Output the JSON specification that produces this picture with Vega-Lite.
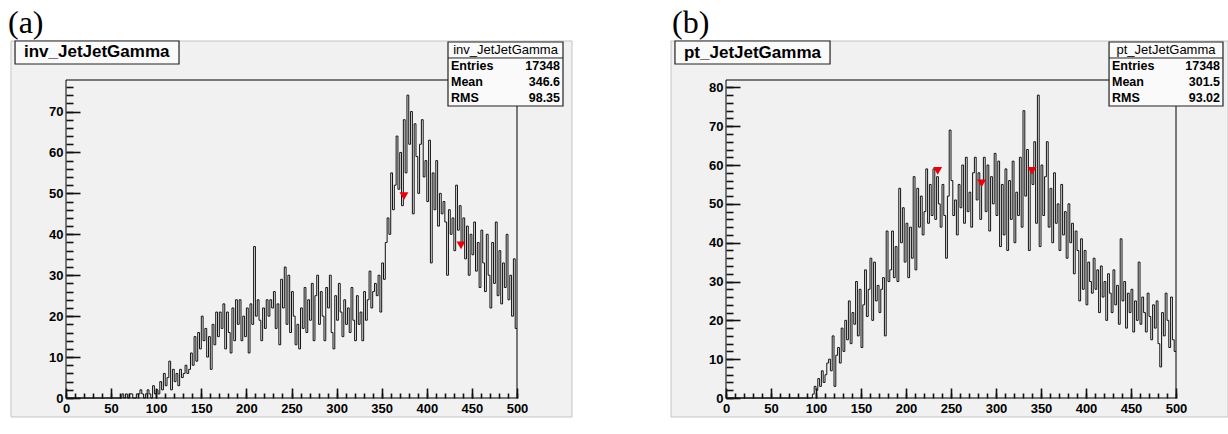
{
"$schema": "https://vega.github.io/schema/vega-lite/v6.json",
"background": "white",
"padding": {"left": 8, "top": 7, "right": 0, "bottom": 0},
"spacing": 97,
"config": {
  "view": {"stroke": null},
  "axis": {"labelFont": "Liberation Sans", "labelFontWeight": "bold", "labelFontSize": 13, "labelColor": "black", "domainColor": "black", "domainWidth": 1, "grid": false, "labelFlush": false, "labelOverlap": false, "labelBound": false, "zindex": 1},
  "text": {"font": "Liberation Sans", "color": "black"}
},
"datasets": {
  "histA": [
    {"x":0,"n":0},{"x":60,"n":0},{"x":62,"n":1},{"x":64,"n":0},{"x":66,"n":1},{"x":68,"n":0},{"x":70,"n":1},{"x":72,"n":1},{"x":74,"n":0},{"x":76,"n":0},{"x":78,"n":1},
    {"x":80,"n":1},{"x":82,"n":2},{"x":84,"n":1},{"x":86,"n":0},{"x":88,"n":1},{"x":90,"n":2},{"x":92,"n":1},{"x":94,"n":0},{"x":96,"n":3},{"x":98,"n":1},
    {"x":100,"n":2},{"x":102,"n":1},{"x":104,"n":4},{"x":106,"n":2},{"x":108,"n":6},{"x":110,"n":3},{"x":112,"n":5},{"x":114,"n":9},{"x":116,"n":2},{"x":118,"n":7},
    {"x":120,"n":4},{"x":122,"n":6},{"x":124,"n":3},{"x":126,"n":7},{"x":128,"n":5},{"x":130,"n":6},{"x":132,"n":8},{"x":134,"n":6},{"x":136,"n":7},{"x":138,"n":11},
    {"x":140,"n":8},{"x":142,"n":15},{"x":144,"n":9},{"x":146,"n":16},{"x":148,"n":12},{"x":150,"n":20},{"x":152,"n":14},{"x":154,"n":17},{"x":156,"n":10},{"x":158,"n":15},
    {"x":160,"n":7},{"x":162,"n":18},{"x":164,"n":13},{"x":166,"n":21},{"x":168,"n":15},{"x":170,"n":21},{"x":172,"n":17},{"x":174,"n":23},{"x":176,"n":12},{"x":178,"n":21},
    {"x":180,"n":16},{"x":182,"n":11},{"x":184,"n":22},{"x":186,"n":14},{"x":188,"n":24},{"x":190,"n":18},{"x":192,"n":24},{"x":194,"n":14},{"x":196,"n":20},{"x":198,"n":15},
    {"x":200,"n":22},{"x":202,"n":11},{"x":204,"n":23},{"x":206,"n":18},{"x":208,"n":37},{"x":210,"n":20},{"x":212,"n":24},{"x":214,"n":19},{"x":216,"n":14},{"x":218,"n":22},
    {"x":220,"n":17},{"x":222,"n":24},{"x":224,"n":20},{"x":226,"n":24},{"x":228,"n":22},{"x":230,"n":26},{"x":232,"n":17},{"x":234,"n":23},{"x":236,"n":13},{"x":238,"n":29},
    {"x":240,"n":22},{"x":242,"n":32},{"x":244,"n":18},{"x":246,"n":30},{"x":248,"n":16},{"x":250,"n":26},{"x":252,"n":20},{"x":254,"n":13},{"x":256,"n":18},{"x":258,"n":12},
    {"x":260,"n":22},{"x":262,"n":17},{"x":264,"n":27},{"x":266,"n":16},{"x":268,"n":24},{"x":270,"n":19},{"x":272,"n":28},{"x":274,"n":14},{"x":276,"n":25},{"x":278,"n":30},
    {"x":280,"n":18},{"x":282,"n":26},{"x":284,"n":20},{"x":286,"n":14},{"x":288,"n":27},{"x":290,"n":22},{"x":292,"n":30},{"x":294,"n":16},{"x":296,"n":12},{"x":298,"n":25},
    {"x":300,"n":19},{"x":302,"n":28},{"x":304,"n":21},{"x":306,"n":15},{"x":308,"n":24},{"x":310,"n":18},{"x":312,"n":22},{"x":314,"n":16},{"x":316,"n":27},{"x":318,"n":19},
    {"x":320,"n":14},{"x":322,"n":25},{"x":324,"n":18},{"x":326,"n":21},{"x":328,"n":14},{"x":330,"n":26},{"x":332,"n":19},{"x":334,"n":24},{"x":336,"n":31},{"x":338,"n":22},
    {"x":340,"n":26},{"x":342,"n":28},{"x":344,"n":25},{"x":346,"n":30},{"x":348,"n":21},{"x":350,"n":33},{"x":352,"n":29},{"x":354,"n":38},{"x":356,"n":44},{"x":358,"n":40},
    {"x":360,"n":55},{"x":362,"n":46},{"x":364,"n":52},{"x":366,"n":64},{"x":368,"n":51},{"x":370,"n":60},{"x":372,"n":47},{"x":374,"n":68},{"x":376,"n":55},{"x":378,"n":74},
    {"x":380,"n":62},{"x":382,"n":70},{"x":384,"n":45},{"x":386,"n":67},{"x":388,"n":59},{"x":390,"n":50},{"x":392,"n":62},{"x":394,"n":68},{"x":396,"n":54},{"x":398,"n":58},
    {"x":400,"n":48},{"x":402,"n":63},{"x":404,"n":33},{"x":406,"n":55},{"x":408,"n":46},{"x":410,"n":58},{"x":412,"n":42},{"x":414,"n":50},{"x":416,"n":45},{"x":418,"n":48},
    {"x":420,"n":43},{"x":422,"n":30},{"x":424,"n":46},{"x":426,"n":40},{"x":428,"n":44},{"x":430,"n":36},{"x":432,"n":52},{"x":434,"n":41},{"x":436,"n":47},{"x":438,"n":38},
    {"x":440,"n":44},{"x":442,"n":34},{"x":444,"n":42},{"x":446,"n":30},{"x":448,"n":40},{"x":450,"n":35},{"x":452,"n":43},{"x":454,"n":31},{"x":456,"n":38},{"x":458,"n":27},
    {"x":460,"n":41},{"x":462,"n":33},{"x":464,"n":26},{"x":466,"n":40},{"x":468,"n":30},{"x":470,"n":22},{"x":472,"n":38},{"x":474,"n":28},{"x":476,"n":43},{"x":478,"n":25},
    {"x":480,"n":36},{"x":482,"n":23},{"x":484,"n":33},{"x":486,"n":27},{"x":488,"n":40},{"x":490,"n":24},{"x":492,"n":30},{"x":494,"n":20},{"x":496,"n":34},{"x":498,"n":17},
    {"x":500,"n":17}
  ],
  "histB": [
    {"x":0,"n":0},{"x":94,"n":0},{"x":96,"n":1},{"x":98,"n":3},
    {"x":100,"n":2},{"x":102,"n":5},{"x":104,"n":3},{"x":106,"n":7},{"x":108,"n":4},{"x":110,"n":6},{"x":112,"n":9},{"x":114,"n":10},{"x":116,"n":7},{"x":118,"n":16},
    {"x":120,"n":3},{"x":122,"n":11},{"x":124,"n":13},{"x":126,"n":9},{"x":128,"n":18},{"x":130,"n":12},{"x":132,"n":20},{"x":134,"n":15},{"x":136,"n":25},{"x":138,"n":14},
    {"x":140,"n":22},{"x":142,"n":19},{"x":144,"n":30},{"x":146,"n":16},{"x":148,"n":28},{"x":150,"n":13},{"x":152,"n":24},{"x":154,"n":33},{"x":156,"n":21},{"x":158,"n":28},
    {"x":160,"n":36},{"x":162,"n":20},{"x":164,"n":35},{"x":166,"n":25},{"x":168,"n":29},{"x":170,"n":22},{"x":172,"n":28},{"x":174,"n":31},{"x":176,"n":16},{"x":178,"n":43},
    {"x":180,"n":30},{"x":182,"n":33},{"x":184,"n":43},{"x":186,"n":31},{"x":188,"n":39},{"x":190,"n":30},{"x":192,"n":54},{"x":194,"n":40},{"x":196,"n":49},{"x":198,"n":35},
    {"x":200,"n":45},{"x":202,"n":31},{"x":204,"n":44},{"x":206,"n":36},{"x":208,"n":57},{"x":210,"n":33},{"x":212,"n":54},{"x":214,"n":44},{"x":216,"n":52},{"x":218,"n":42},
    {"x":220,"n":48},{"x":222,"n":59},{"x":224,"n":45},{"x":226,"n":55},{"x":228,"n":47},{"x":230,"n":59},{"x":232,"n":46},{"x":234,"n":57},{"x":236,"n":50},{"x":238,"n":44},
    {"x":240,"n":55},{"x":242,"n":47},{"x":244,"n":36},{"x":246,"n":52},{"x":248,"n":69},{"x":250,"n":56},{"x":252,"n":47},{"x":254,"n":51},{"x":256,"n":42},{"x":258,"n":55},
    {"x":260,"n":49},{"x":262,"n":60},{"x":264,"n":45},{"x":266,"n":62},{"x":268,"n":48},{"x":270,"n":53},{"x":272,"n":44},{"x":274,"n":58},{"x":276,"n":62},{"x":278,"n":51},
    {"x":280,"n":58},{"x":282,"n":46},{"x":284,"n":56},{"x":286,"n":62},{"x":288,"n":48},{"x":290,"n":60},{"x":292,"n":43},{"x":294,"n":57},{"x":296,"n":50},{"x":298,"n":63},
    {"x":300,"n":47},{"x":302,"n":61},{"x":304,"n":39},{"x":306,"n":55},{"x":308,"n":42},{"x":310,"n":59},{"x":312,"n":38},{"x":314,"n":56},{"x":316,"n":46},{"x":318,"n":61},
    {"x":320,"n":40},{"x":322,"n":53},{"x":324,"n":47},{"x":326,"n":62},{"x":328,"n":44},{"x":330,"n":74},{"x":332,"n":52},{"x":334,"n":64},{"x":336,"n":38},{"x":338,"n":59},
    {"x":340,"n":55},{"x":342,"n":66},{"x":344,"n":45},{"x":346,"n":78},{"x":348,"n":39},{"x":350,"n":60},{"x":352,"n":47},{"x":354,"n":57},{"x":356,"n":66},{"x":358,"n":44},
    {"x":360,"n":54},{"x":362,"n":40},{"x":364,"n":58},{"x":366,"n":45},{"x":368,"n":50},{"x":370,"n":38},{"x":372,"n":55},{"x":374,"n":42},{"x":376,"n":48},{"x":378,"n":36},
    {"x":380,"n":50},{"x":382,"n":40},{"x":384,"n":45},{"x":386,"n":32},{"x":388,"n":43},{"x":390,"n":38},{"x":392,"n":25},{"x":394,"n":41},{"x":396,"n":28},{"x":398,"n":38},
    {"x":400,"n":24},{"x":402,"n":35},{"x":404,"n":30},{"x":406,"n":27},{"x":408,"n":36},{"x":410,"n":28},{"x":412,"n":33},{"x":414,"n":22},{"x":416,"n":34},{"x":418,"n":26},
    {"x":420,"n":30},{"x":422,"n":20},{"x":424,"n":32},{"x":426,"n":27},{"x":428,"n":22},{"x":430,"n":33},{"x":432,"n":24},{"x":434,"n":29},{"x":436,"n":19},{"x":438,"n":41},
    {"x":440,"n":25},{"x":442,"n":30},{"x":444,"n":18},{"x":446,"n":27},{"x":448,"n":22},{"x":450,"n":28},{"x":452,"n":17},{"x":454,"n":25},{"x":456,"n":20},{"x":458,"n":35},
    {"x":460,"n":19},{"x":462,"n":26},{"x":464,"n":22},{"x":466,"n":17},{"x":468,"n":27},{"x":470,"n":21},{"x":472,"n":15},{"x":474,"n":24},{"x":476,"n":18},{"x":478,"n":25},
    {"x":480,"n":14},{"x":482,"n":8},{"x":484,"n":22},{"x":486,"n":16},{"x":488,"n":27},{"x":490,"n":20},{"x":492,"n":13},{"x":494,"n":26},{"x":496,"n":15},{"x":498,"n":12},
    {"x":500,"n":12}
  ],
  "triA": [{"x":374.7,"y":49.3},{"x":437.9,"y":37.3}],
  "triB": [{"x":235.2,"y":58.5},{"x":284,"y":55.3},{"x":340,"y":58.5}],
  "padA": [{"x0":-61.0,"x1":561.0,"y0":-4.64,"y1":87.23}],
  "padB": [{"x0":-61.1,"x1":557.8,"y0":-4.89,"y1":91.94}],
  "frameA": [{"x0":0,"x1":500,"y0":0,"y1":77.7}],
  "frameB": [{"x0":0,"x1":500,"y0":0,"y1":81.9}],
  "titleA": [{"x0":-56.5,"x1":125.3,"y0":81.61,"y1":87.23,"tx":-46.6,"ty":84.42,"t":"inv_JetJetGamma"}],
  "titleB": [{"x0":-56.7,"x1":115.6,"y0":86.02,"y1":91.94,"tx":-46.7,"ty":88.98,"t":"pt_JetJetGamma"}],
  "lblA": [{"x":-64.3,"y":95.29,"t":"(a)"}],
  "lblB": [{"x":-60.0,"y":100.44,"t":"(b)"}],
  "statA": [{"x0":423.5,"x1":551.0,"y0":71.35,"y1":86.99,"ys":83.08,"tx":487.3,"ty":85.03,"t":"inv_JetJetGamma"}],
  "statB": [{"x0":425.6,"x1":552.2,"y0":75.20,"y1":91.69,"ys":87.57,"tx":488.9,"ty":89.63,"t":"pt_JetJetGamma"}],
  "rowsA": [{"k":"Entries","v":"17348","lx":426.8,"vx":547.7,"y":81.12},{"k":"Mean","v":"346.6","lx":426.8,"vx":547.7,"y":77.21},{"k":"RMS","v":"98.35","lx":426.8,"vx":547.7,"y":73.30}],
  "rowsB": [{"k":"Entries","v":"17348","lx":428.9,"vx":548.9,"y":85.51},{"k":"Mean","v":"301.5","lx":428.9,"vx":548.9,"y":81.40},{"k":"RMS","v":"93.02","lx":428.9,"vx":548.9,"y":77.28}]
},
"hconcat": [
  {
    "width": 451, "height": 318,
    "resolve": {"axis": {"x": "independent", "y": "independent"}},
    "layer": [
      {"data": {"name": "padA"}, "mark": {"type": "rect", "fill": "#f1f1f1", "stroke": "#c4c4c4", "strokeWidth": 1},
       "encoding": {"x": {"field": "x0", "type": "quantitative", "scale": {"domain": [0, 500], "nice": false, "zero": false}, "axis": null}, "x2": {"field": "x1"},
                    "y": {"field": "y0", "type": "quantitative", "scale": {"domain": [0, 77.7], "nice": false, "zero": false}, "axis": null}, "y2": {"field": "y1"}}},
      {"data": {"name": "histA"}, "mark": {"type": "line", "interpolate": "step-after", "color": "#111111", "strokeWidth": 1},
       "encoding": {"x": {"field": "x", "type": "quantitative", "scale": {"domain": [0, 500], "nice": false, "zero": false},
                          "axis": {"title": null, "orient": "bottom", "zindex": 2, "tickCount": 10, "ticks": true, "tickColor": "#111111", "tickOpacity": 1, "tickWidth": 1.6, "tickSize": 10, "offset": -10, "domain": false, "labelPadding": 4}},
                    "y": {"field": "n", "type": "quantitative", "scale": {"domain": [0, 77.7], "nice": false, "zero": false},
                          "axis": {"title": null, "orient": "left", "zindex": 2, "tickCount": 8, "ticks": true, "tickColor": "#111111", "tickOpacity": 1, "tickWidth": 1.6, "tickSize": 14, "offset": -14, "domain": false, "labelPadding": 3}}}},
      {"data": {"name": "frameA"}, "mark": {"type": "rect", "fillOpacity": 0, "stroke": "black", "strokeWidth": 1},
       "encoding": {"x": {"field": "x0", "type": "quantitative", "scale": {"domain": [0, 500], "nice": false, "zero": false},
                          "axis": {"title": null, "orient": "bottom", "zindex": 2, "tickCount": 50, "ticks": true, "tickColor": "#111111", "tickOpacity": 1, "tickWidth": 1.6, "tickSize": 5, "offset": -5, "labels": false, "domain": false}}, "x2": {"field": "x1"},
                    "y": {"field": "y0", "type": "quantitative", "scale": {"domain": [0, 77.7], "nice": false, "zero": false},
                          "axis": {"title": null, "orient": "left", "zindex": 2, "tickCount": 40, "ticks": true, "tickColor": "#111111", "tickOpacity": 1, "tickWidth": 1.6, "tickSize": 7, "offset": -7, "labels": false, "domain": false}}, "y2": {"field": "y1"}}},
      {"data": {"name": "triA"}, "mark": {"type": "point", "shape": "triangle-down", "filled": true, "color": "#e8000b", "size": 80, "opacity": 1},
       "encoding": {"x": {"field": "x", "type": "quantitative", "axis": null}, "y": {"field": "y", "type": "quantitative", "axis": null}}},
      {"data": {"name": "titleA"}, "mark": {"type": "rect", "fill": "#fafafa", "stroke": "#222222", "strokeWidth": 1.2},
       "encoding": {"x": {"field": "x0", "type": "quantitative", "axis": null}, "x2": {"field": "x1"}, "y": {"field": "y0", "type": "quantitative", "axis": null}, "y2": {"field": "y1"}}},
      {"data": {"name": "titleA"}, "mark": {"type": "text", "align": "left", "baseline": "middle", "fontSize": 17, "fontWeight": "bold"},
       "encoding": {"x": {"field": "tx", "type": "quantitative", "axis": null}, "y": {"field": "ty", "type": "quantitative", "axis": null}, "text": {"field": "t"}}},
      {"data": {"name": "lblA"}, "mark": {"type": "text", "align": "left", "baseline": "top", "fontSize": 32, "font": "Liberation Serif"},
       "encoding": {"x": {"field": "x", "type": "quantitative", "axis": null}, "y": {"field": "y", "type": "quantitative", "axis": null}, "text": {"field": "t"}}},
      {"data": {"name": "statA"}, "mark": {"type": "rect", "fill": "#fafafa", "stroke": "#222222", "strokeWidth": 1.2},
       "encoding": {"x": {"field": "x0", "type": "quantitative", "axis": null}, "x2": {"field": "x1"}, "y": {"field": "y0", "type": "quantitative", "axis": null}, "y2": {"field": "y1"}}},
      {"data": {"name": "statA"}, "mark": {"type": "rule", "stroke": "#222222", "strokeWidth": 1},
       "encoding": {"x": {"field": "x0", "type": "quantitative", "axis": null}, "x2": {"field": "x1"}, "y": {"field": "ys", "type": "quantitative", "axis": null}}},
      {"data": {"name": "statA"}, "mark": {"type": "text", "align": "center", "baseline": "middle", "fontSize": 13},
       "encoding": {"x": {"field": "tx", "type": "quantitative", "axis": null}, "y": {"field": "ty", "type": "quantitative", "axis": null}, "text": {"field": "t"}}},
      {"data": {"name": "rowsA"}, "mark": {"type": "text", "align": "left", "baseline": "middle", "fontSize": 12.5, "fontWeight": "bold"},
       "encoding": {"x": {"field": "lx", "type": "quantitative", "axis": null}, "y": {"field": "y", "type": "quantitative", "axis": null}, "text": {"field": "k"}}},
      {"data": {"name": "rowsA"}, "mark": {"type": "text", "align": "right", "baseline": "middle", "fontSize": 12.5, "fontWeight": "bold"},
       "encoding": {"x": {"field": "vx", "type": "quantitative", "axis": null}, "y": {"field": "y", "type": "quantitative", "axis": null}, "text": {"field": "v"}}}
    ]
  },
  {
    "width": 450, "height": 318,
    "resolve": {"axis": {"x": "independent", "y": "independent"}},
    "layer": [
      {"data": {"name": "padB"}, "mark": {"type": "rect", "fill": "#f1f1f1", "stroke": "#c4c4c4", "strokeWidth": 1},
       "encoding": {"x": {"field": "x0", "type": "quantitative", "scale": {"domain": [0, 500], "nice": false, "zero": false}, "axis": null}, "x2": {"field": "x1"},
                    "y": {"field": "y0", "type": "quantitative", "scale": {"domain": [0, 81.9], "nice": false, "zero": false}, "axis": null}, "y2": {"field": "y1"}}},
      {"data": {"name": "histB"}, "mark": {"type": "line", "interpolate": "step-after", "color": "#111111", "strokeWidth": 1},
       "encoding": {"x": {"field": "x", "type": "quantitative", "scale": {"domain": [0, 500], "nice": false, "zero": false},
                          "axis": {"title": null, "orient": "bottom", "zindex": 2, "tickCount": 10, "ticks": true, "tickColor": "#111111", "tickOpacity": 1, "tickWidth": 1.6, "tickSize": 10, "offset": -10, "domain": false, "labelPadding": 4}},
                    "y": {"field": "n", "type": "quantitative", "scale": {"domain": [0, 81.9], "nice": false, "zero": false},
                          "axis": {"title": null, "orient": "left", "zindex": 2, "tickCount": 8, "ticks": true, "tickColor": "#111111", "tickOpacity": 1, "tickWidth": 1.6, "tickSize": 14, "offset": -14, "domain": false, "labelPadding": 3}}}},
      {"data": {"name": "frameB"}, "mark": {"type": "rect", "fillOpacity": 0, "stroke": "black", "strokeWidth": 1},
       "encoding": {"x": {"field": "x0", "type": "quantitative", "scale": {"domain": [0, 500], "nice": false, "zero": false},
                          "axis": {"title": null, "orient": "bottom", "zindex": 2, "tickCount": 50, "ticks": true, "tickColor": "#111111", "tickOpacity": 1, "tickWidth": 1.6, "tickSize": 5, "offset": -5, "labels": false, "domain": false}}, "x2": {"field": "x1"},
                    "y": {"field": "y0", "type": "quantitative", "scale": {"domain": [0, 81.9], "nice": false, "zero": false},
                          "axis": {"title": null, "orient": "left", "zindex": 2, "tickCount": 40, "ticks": true, "tickColor": "#111111", "tickOpacity": 1, "tickWidth": 1.6, "tickSize": 7, "offset": -7, "labels": false, "domain": false}}, "y2": {"field": "y1"}}},
      {"data": {"name": "triB"}, "mark": {"type": "point", "shape": "triangle-down", "filled": true, "color": "#e8000b", "size": 80, "opacity": 1},
       "encoding": {"x": {"field": "x", "type": "quantitative", "axis": null}, "y": {"field": "y", "type": "quantitative", "axis": null}}},
      {"data": {"name": "titleB"}, "mark": {"type": "rect", "fill": "#fafafa", "stroke": "#222222", "strokeWidth": 1.2},
       "encoding": {"x": {"field": "x0", "type": "quantitative", "axis": null}, "x2": {"field": "x1"}, "y": {"field": "y0", "type": "quantitative", "axis": null}, "y2": {"field": "y1"}}},
      {"data": {"name": "titleB"}, "mark": {"type": "text", "align": "left", "baseline": "middle", "fontSize": 17, "fontWeight": "bold"},
       "encoding": {"x": {"field": "tx", "type": "quantitative", "axis": null}, "y": {"field": "ty", "type": "quantitative", "axis": null}, "text": {"field": "t"}}},
      {"data": {"name": "lblB"}, "mark": {"type": "text", "align": "left", "baseline": "top", "fontSize": 32, "font": "Liberation Serif"},
       "encoding": {"x": {"field": "x", "type": "quantitative", "axis": null}, "y": {"field": "y", "type": "quantitative", "axis": null}, "text": {"field": "t"}}},
      {"data": {"name": "statB"}, "mark": {"type": "rect", "fill": "#fafafa", "stroke": "#222222", "strokeWidth": 1.2},
       "encoding": {"x": {"field": "x0", "type": "quantitative", "axis": null}, "x2": {"field": "x1"}, "y": {"field": "y0", "type": "quantitative", "axis": null}, "y2": {"field": "y1"}}},
      {"data": {"name": "statB"}, "mark": {"type": "rule", "stroke": "#222222", "strokeWidth": 1},
       "encoding": {"x": {"field": "x0", "type": "quantitative", "axis": null}, "x2": {"field": "x1"}, "y": {"field": "ys", "type": "quantitative", "axis": null}}},
      {"data": {"name": "statB"}, "mark": {"type": "text", "align": "center", "baseline": "middle", "fontSize": 13},
       "encoding": {"x": {"field": "tx", "type": "quantitative", "axis": null}, "y": {"field": "ty", "type": "quantitative", "axis": null}, "text": {"field": "t"}}},
      {"data": {"name": "rowsB"}, "mark": {"type": "text", "align": "left", "baseline": "middle", "fontSize": 12.5, "fontWeight": "bold"},
       "encoding": {"x": {"field": "lx", "type": "quantitative", "axis": null}, "y": {"field": "y", "type": "quantitative", "axis": null}, "text": {"field": "k"}}},
      {"data": {"name": "rowsB"}, "mark": {"type": "text", "align": "right", "baseline": "middle", "fontSize": 12.5, "fontWeight": "bold"},
       "encoding": {"x": {"field": "vx", "type": "quantitative", "axis": null}, "y": {"field": "y", "type": "quantitative", "axis": null}, "text": {"field": "v"}}}
    ]
  }
]
}
